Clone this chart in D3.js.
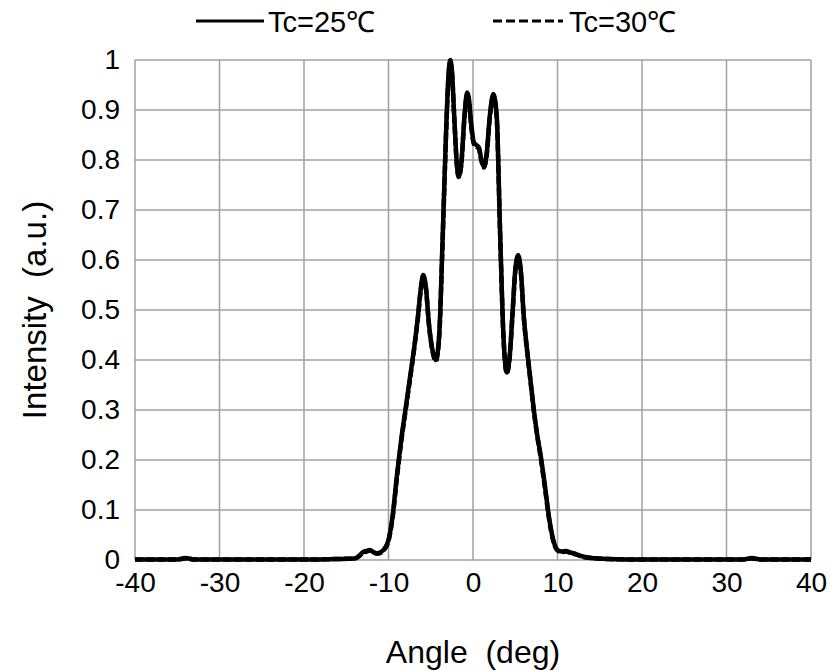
<!DOCTYPE html>
<html lang="en">
<head>
<meta charset="UTF-8">
<title>Intensity vs Angle</title>
<script src="https://d3js.org/d3.v7.min.js"></script>
<style>
    body { margin: 0; background: #fff; }
    svg text { font-family: "Liberation Sans", Arial, sans-serif; fill: #000; }
    .tick text { font-size: 28px; }
</style>
</head>
<body>
<div id="chart"></div>
<script>
// angle (deg) sample positions
const angles = [-40, -35, -34, -33, -20, -16, -14, -13.5, -13, -12.6, -12.2, -11.8, -11.4, -11, -10.5, -10, -9.5, -9, -8.5, -8,
    -7.5, -7, -6.5, -6.2, -5.9, -5.6, -5.2, -4.8, -4.4, -4.0, -3.6, -3.2, -2.9, -2.7, -2.5, -2.2, -1.9, -1.7, -1.4, -1.0,
    -0.7, -0.5, -0.2, 0.1, 0.4, 0.7, 1.0, 1.3, 1.6, 2.0, 2.4, 2.8, 3.2, 3.6, 4.0, 4.3, 4.7, 5.0, 5.35, 5.7,
    6.0, 6.4, 6.8, 7.2, 7.6, 8.0, 8.5, 9.0, 9.5, 10, 10.5, 11, 11.5, 12, 12.5, 13, 14, 16, 20, 32, 33, 34, 40];
const tc25 = [0.001, 0.001, 0.004, 0.001, 0.001, 0.002, 0.003, 0.008, 0.016, 0.018, 0.02, 0.016, 0.013, 0.015, 0.022, 0.04,
    0.09, 0.17, 0.24, 0.30, 0.36, 0.42, 0.49, 0.54, 0.57, 0.55, 0.47, 0.42, 0.40, 0.45, 0.64, 0.85, 0.97, 1.0, 0.98, 0.88,
    0.79, 0.768, 0.79, 0.89, 0.935, 0.925, 0.87, 0.835, 0.83, 0.825, 0.80, 0.787, 0.81, 0.89, 0.932, 0.89, 0.66, 0.45,
    0.375, 0.40, 0.50, 0.58, 0.61, 0.57, 0.49, 0.42, 0.36, 0.30, 0.25, 0.21, 0.15, 0.085, 0.04, 0.02, 0.017, 0.018,
    0.015, 0.013, 0.01, 0.007, 0.004, 0.002, 0.001, 0.001, 0.004, 0.001, 0.001];
const tc30 = [0.001, 0.001, 0.003, 0.001, 0.001, 0.002, 0.003, 0.007, 0.015, 0.017, 0.019, 0.016, 0.013, 0.014, 0.021, 0.038,
    0.087, 0.165, 0.236, 0.296, 0.356, 0.417, 0.487, 0.537, 0.566, 0.547, 0.468, 0.418, 0.398, 0.447, 0.635, 0.845, 0.965, 0.995, 0.976, 0.877,
    0.788, 0.766, 0.788, 0.886, 0.93, 0.92, 0.866, 0.832, 0.827, 0.822, 0.798, 0.785, 0.807, 0.886, 0.928, 0.886, 0.657, 0.448,
    0.374, 0.398, 0.497, 0.576, 0.606, 0.567, 0.487, 0.418, 0.358, 0.298, 0.248, 0.206, 0.146, 0.082, 0.038, 0.019, 0.016, 0.017,
    0.014, 0.012, 0.009, 0.006, 0.004, 0.002, 0.001, 0.001, 0.003, 0.001, 0.001];
const xTicks = [-40, -30, -20, -10, 0, 10, 20, 30, 40];
const yTicks = [0, 0.1, 0.2, 0.3, 0.4, 0.5, 0.6, 0.7, 0.8, 0.9, 1];
const seriesNames = ["Tc=25\u2103", "Tc=30\u2103"];

const width = 831, height = 671;
const margin = {left: 135, right: 20, top: 60, bottom: 111};

const svg = d3.select('#chart').append('svg')
    .attr('width', width)
    .attr('height', height);

const x = d3.scaleLinear().domain([-40, 40]).range([margin.left, width - margin.right]);
const y = d3.scaleLinear().domain([0, 1]).range([height - margin.bottom, margin.top]);

// grid
svg.append('g').selectAll('line.vx')
    .data(xTicks).enter().append('line')
    .attr('x1', d => x(d)).attr('x2', d => x(d))
    .attr('y1', y(0)).attr('y2', y(1))
    .attr('stroke', '#a0a0a0').attr('stroke-width', 1.5);
svg.append('g').selectAll('line.hy')
    .data(yTicks).enter().append('line')
    .attr('x1', x(-40)).attr('x2', x(40))
    .attr('y1', d => y(d)).attr('y2', d => y(d))
    .attr('stroke', '#a0a0a0').attr('stroke-width', 1.5);

// axes (labels only)
const xAxis = svg.append('g')
    .attr('transform', `translate(0,${y(0)})`)
    .call(d3.axisBottom(x).tickValues(xTicks).tickSize(0).tickPadding(12).tickFormat(d => String(d)));
xAxis.select('.domain').remove();
xAxis.selectAll('text').attr('dy', '0.71em');

const yAxis = svg.append('g')
    .attr('transform', `translate(${x(-40)},0)`)
    .call(d3.axisLeft(y).tickValues(yTicks).tickSize(0).tickPadding(15).tickFormat(d => String(d)));
yAxis.select('.domain').remove();

// curves
const pts25 = angles.map((a, i) => [a, tc25[i]]);
const pts30 = angles.map((a, i) => [a, tc30[i]]);
const line = d3.line()
    .x(d => x(d[0]))
    .y(d => y(d[1]))
    .curve(d3.curveMonotoneX);

svg.append('path')
    .attr('d', line(pts30))
    .attr('fill', 'none')
    .attr('stroke', '#000')
    .attr('stroke-width', 4.5)
    .attr('stroke-dasharray', '8,3');
svg.append('path')
    .attr('d', line(pts25))
    .attr('fill', 'none')
    .attr('stroke', '#000')
    .attr('stroke-width', 4.5);

// legend
const legend = svg.append('g');
legend.append('line')
    .attr('x1', 196).attr('x2', 264).attr('y1', 21).attr('y2', 21)
    .attr('stroke', '#000').attr('stroke-width', 3);
legend.append('text')
    .attr('x', 268).attr('y', 32)
    .style('font-size', '29px')
    .text(seriesNames[0]);
legend.append('line')
    .attr('x1', 493).attr('x2', 563).attr('y1', 21).attr('y2', 21)
    .attr('stroke', '#000').attr('stroke-width', 3)
    .attr('stroke-dasharray', '9,4');
legend.append('text')
    .attr('x', 569).attr('y', 32)
    .style('font-size', '29px')
    .text(seriesNames[1]);

// titles
svg.append('text')
    .attr('x', x(0)).attr('y', 663)
    .attr('text-anchor', 'middle')
    .style('font-size', '32px')
    .style('white-space', 'pre')
    .text('Angle  (deg)');
svg.append('text')
    .attr('transform', `translate(46,${y(0.5)}) rotate(-90)`)
    .attr('text-anchor', 'middle')
    .style('font-size', '33px')
    .style('white-space', 'pre')
    .text('Intensity  (a.u.)');
</script>
</body>
</html>
